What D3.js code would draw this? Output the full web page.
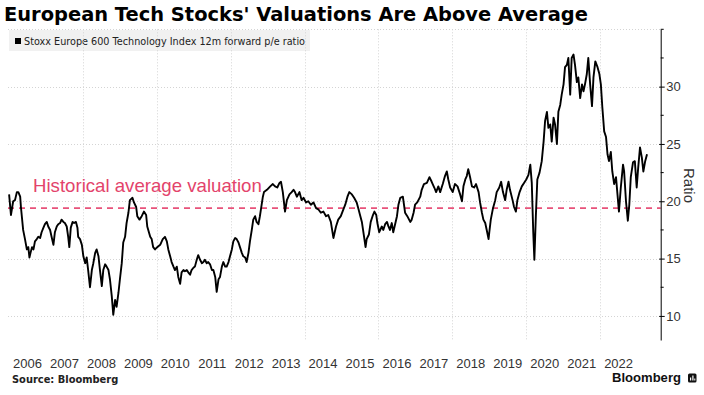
<!DOCTYPE html>
<html><head><meta charset="utf-8">
<script src="https://cdn.jsdelivr.net/npm/d3@7"></script>
<style>html,body{margin:0;padding:0;background:#fff;} svg{display:block;}</style>
</head><body>
<svg id="chart" width="704" height="395"></svg>
<script>
// ---------- data ----------
const titleText = "European Tech Stocks' Valuations Are Above Average";
const seriesName = "Stoxx Europe 600 Technology Index 12m forward p/e ratio";
const avgLabel = "Historical average valuation";
const sourceText = "Source: Bloomberg";
const brandText = "Bloomberg";
const axisTitle = "Ratio";
const historicalAverage = 19.4;
const yearLabels = [2006,2007,2008,2009,2010,2011,2012,2013,2014,2015,2016,2017,2018,2019,2020,2021,2022];
const gridYears = [2008,2010,2012,2014,2016,2018,2020,2022];
const yMajorTicks = [10,15,20,25,30];
const yMinorTicks = [12.5,17.5,22.5,27.5,32.5,35];
const yGridValues = [10,15,20,25,30,35];

// [decimal year, forward p/e]
const pe2006to2009 = [[2006.00,20.6],[2006.05,18.8],[2006.11,20.0],[2006.16,20.1],[2006.21,20.8],[2006.25,20.8],[2006.30,20.4],[2006.32,19.5],[2006.38,17.5],[2006.43,16.7],[2006.48,15.8],[2006.52,16.0],[2006.55,15.1],[2006.58,15.5],[2006.62,16.0],[2006.66,15.8],[2006.70,16.5],[2006.75,16.7],[2006.79,16.9],[2006.84,16.8],[2006.88,17.3],[2006.93,17.7],[2006.97,18.0],[2007.02,18.2],[2007.06,17.8],[2007.11,17.5],[2007.15,16.9],[2007.20,16.2],[2007.24,17.3],[2007.29,17.8],[2007.33,18.0],[2007.38,18.1],[2007.42,18.4],[2007.47,18.2],[2007.51,18.1],[2007.56,17.8],[2007.60,16.9],[2007.63,16.0],[2007.67,17.7],[2007.72,18.2],[2007.76,18.1],[2007.81,18.2],[2007.85,17.7],[2007.87,16.9],[2007.92,16.7],[2007.97,16.2],[2008.01,15.2],[2008.06,14.6],[2008.10,15.1],[2008.14,14.0],[2008.19,12.5],[2008.24,14.0],[2008.28,14.6],[2008.33,15.5],[2008.37,15.8],[2008.42,15.2],[2008.46,14.0],[2008.51,12.6],[2008.55,14.0],[2008.60,14.5],[2008.64,14.3],[2008.69,14.0],[2008.73,13.2],[2008.78,11.7],[2008.82,10.1],[2008.87,11.4],[2008.91,10.8],[2008.96,12.0],[2009.00,13.2],[2009.05,14.6],[2009.09,16.4],[2009.14,16.9],[2009.18,18.1],[2009.23,19.0],[2009.27,20.1]];
const pe2009to2012 = [[2009.34,20.3],[2009.38,19.9],[2009.44,19.5],[2009.47,18.7],[2009.53,18.4],[2009.59,18.7],[2009.65,19.1],[2009.71,18.8],[2009.74,17.8],[2009.82,16.9],[2009.86,16.7],[2009.90,16.0],[2009.95,15.8],[2010.01,16.0],[2010.09,16.2],[2010.16,16.7],[2010.22,16.9],[2010.27,16.5],[2010.31,15.8],[2010.36,15.2],[2010.40,14.7],[2010.45,14.3],[2010.49,14.0],[2010.54,14.3],[2010.58,13.4],[2010.63,12.8],[2010.67,13.8],[2010.72,14.0],[2010.76,13.9],[2010.81,14.0],[2010.85,13.8],[2010.90,13.6],[2010.94,14.0],[2010.99,14.2],[2011.03,14.3],[2011.08,14.9],[2011.12,15.3],[2011.17,14.9],[2011.22,14.6],[2011.26,14.7],[2011.30,14.9],[2011.35,14.6],[2011.39,14.7],[2011.44,14.5],[2011.49,14.0],[2011.53,14.0],[2011.58,13.4],[2011.62,12.1],[2011.67,13.2],[2011.71,13.4],[2011.76,14.3],[2011.80,14.7],[2011.85,14.3],[2011.89,14.3],[2011.94,14.7],[2011.98,15.2],[2012.03,15.8],[2012.07,16.5],[2012.12,16.8],[2012.16,16.7],[2012.21,16.4],[2012.25,16.0],[2012.30,15.5],[2012.34,15.2],[2012.39,15.1],[2012.43,14.7],[2012.48,15.5],[2012.52,16.5],[2012.57,17.5],[2012.61,18.4],[2012.66,18.7],[2012.70,18.2],[2012.75,18.0],[2012.79,18.7]];
const pe2012to2016 = [[2012.87,20.4],[2012.90,20.8],[2012.98,21.0],[2013.07,21.3],[2013.14,21.5],[2013.20,21.3],[2013.26,21.2],[2013.32,21.6],[2013.36,21.7],[2013.41,20.8],[2013.47,19.1],[2013.52,20.1],[2013.59,20.6],[2013.65,20.8],[2013.70,21.0],[2013.74,20.8],[2013.79,20.4],[2013.86,20.8],[2013.92,20.1],[2013.97,20.3],[2014.04,19.9],[2014.10,20.0],[2014.17,19.7],[2014.24,19.9],[2014.31,19.4],[2014.37,19.3],[2014.44,19.0],[2014.51,19.1],[2014.58,18.7],[2014.64,18.8],[2014.71,18.2],[2014.78,16.8],[2014.85,17.8],[2014.91,18.4],[2014.98,18.7],[2015.05,19.3],[2015.10,19.7],[2015.16,20.4],[2015.21,20.8],[2015.28,20.6],[2015.34,20.3],[2015.41,19.9],[2015.46,19.3],[2015.50,18.8],[2015.55,18.2],[2015.61,16.9],[2015.65,16.0],[2015.68,16.7],[2015.74,17.1],[2015.79,18.2],[2015.85,18.8],[2015.89,19.1],[2015.94,18.8],[2015.97,18.1],[2016.02,17.3],[2016.09,17.8],[2016.13,17.5],[2016.18,18.0],[2016.23,18.2],[2016.27,17.8],[2016.31,17.5],[2016.36,18.1],[2016.40,17.3],[2016.45,18.0],[2016.50,18.7],[2016.54,19.7],[2016.59,20.3],[2016.66,20.4]];
const pe2016to2020 = [[2016.72,19.0],[2016.78,18.7],[2016.86,18.2],[2016.90,18.4],[2016.95,19.0],[2016.99,19.7],[2017.05,19.9],[2017.13,20.4],[2017.17,21.0],[2017.23,21.5],[2017.31,21.6],[2017.38,22.1],[2017.44,21.7],[2017.51,21.2],[2017.56,20.8],[2017.62,21.3],[2017.67,20.8],[2017.74,21.5],[2017.80,22.2],[2017.85,22.6],[2017.89,21.9],[2017.94,21.2],[2018.01,20.8],[2018.07,21.5],[2018.14,21.3],[2018.21,20.6],[2018.26,20.0],[2018.30,21.3],[2018.35,21.9],[2018.39,22.2],[2018.43,22.8],[2018.48,22.1],[2018.53,21.3],[2018.59,21.2],[2018.64,21.5],[2018.71,20.8],[2018.75,19.9],[2018.80,19.0],[2018.84,18.4],[2018.89,18.1],[2018.93,17.5],[2018.98,16.7],[2019.00,17.3],[2019.04,18.4],[2019.10,19.4],[2019.16,20.1],[2019.20,20.8],[2019.27,21.2],[2019.32,21.7],[2019.37,20.8],[2019.43,20.1],[2019.47,21.0],[2019.52,21.7],[2019.56,21.0],[2019.63,20.1],[2019.67,19.5],[2019.72,19.1],[2019.76,20.1],[2019.82,20.8],[2019.88,21.3],[2019.94,21.6],[2020.00,21.9],[2020.06,22.3],[2020.11,23.2],[2020.15,21.6],[2020.19,17.3],[2020.22,14.9],[2020.26,18.7],[2020.30,21.9],[2020.36,22.5]];
const pe2020to2023 = [[2020.42,23.5],[2020.47,25.2],[2020.51,27.0],[2020.56,27.8],[2020.60,26.4],[2020.65,26.7],[2020.69,25.2],[2020.74,27.3],[2020.78,26.7],[2020.83,25.0],[2020.87,27.8],[2020.92,28.4],[2020.96,29.3],[2021.01,30.2],[2021.05,31.7],[2021.10,31.9],[2021.14,32.5],[2021.19,29.3],[2021.23,32.5],[2021.28,32.8],[2021.32,31.9],[2021.37,30.4],[2021.41,30.8],[2021.46,29.0],[2021.51,30.2],[2021.55,29.6],[2021.59,30.2],[2021.64,31.1],[2021.68,32.5],[2021.73,30.2],[2021.78,28.3],[2021.82,30.8],[2021.87,32.2],[2021.93,31.7],[2021.98,31.1],[2022.02,30.2],[2022.06,28.2],[2022.11,26.1],[2022.16,25.6],[2022.20,24.1],[2022.24,23.5],[2022.29,24.3],[2022.33,22.6],[2022.38,21.5],[2022.43,22.1],[2022.47,20.6],[2022.51,19.1],[2022.56,21.2],[2022.62,23.2],[2022.65,22.6],[2022.70,20.0],[2022.75,18.3],[2022.79,19.7],[2022.83,22.1],[2022.89,23.4],[2022.94,23.5],[2022.99,21.2],[2023.03,22.9],[2023.08,24.7],[2023.13,23.8],[2023.17,22.6],[2023.22,23.5],[2023.27,24.1]];

const series = [].concat(pe2006to2009, pe2009to2012, pe2012to2016, pe2016to2020, pe2020to2023);

// ---------- layout ----------
const svg = d3.select("#chart");
const plotLeft = 8, axisX = 660.7, plotTop = 29.3, plotBottom = 340;
const x = d3.scaleLinear().domain([2006, 2023.64]).range([9.1, axisX]);
const y = d3.scaleLinear().domain([7.9, 35]).range([plotBottom, plotTop]);

function fitText(sel, targetW, baseSize) {
  sel.style("font-size", baseSize + "px");
  const w = sel.node().getComputedTextLength();
  sel.style("font-size", (baseSize * targetW / w).toFixed(2) + "px");
}

// title
const t = svg.append("text").attr("x", 4).attr("y", 21)
  .style("font-family", "'DejaVu Sans', Verdana, sans-serif").style("font-weight", "bold")
  .attr("fill", "#000").text(titleText);
fitText(t, 584, 19);

// legend box
svg.append("rect").attr("x", 9).attr("y", 30).attr("width", 301).attr("height", 21).attr("fill", "#f1f1f1");
svg.append("rect").attr("x", 15).attr("y", 38).attr("width", 6).attr("height", 6).attr("fill", "#000");
svg.append("text").attr("x", 24).attr("y", 45.2)
  .style("font-family", "'DejaVu Sans', Verdana, sans-serif").style("font-size", "11px")
  .attr("textLength", 281).attr("lengthAdjust", "spacingAndGlyphs")
  .attr("fill", "#222").text(seriesName);

// gridlines
const grid = svg.append("g").attr("stroke", "#d4d4d4").attr("stroke-width", 1).attr("stroke-dasharray", "1,2");
grid.selectAll("line.h").data(yGridValues).join("line").attr("class", "h")
  .attr("x1", plotLeft).attr("x2", axisX).attr("y1", d => Math.round(y(d)) + 0.5).attr("y2", d => Math.round(y(d)) + 0.5);
grid.selectAll("line.v").data(gridYears).join("line").attr("class", "v")
  .attr("x1", d => Math.round(x(d)) + 0.5).attr("x2", d => Math.round(x(d)) + 0.5)
  .attr("y1", plotTop).attr("y2", plotBottom);

// historical average line
svg.append("line").attr("x1", plotLeft).attr("x2", axisX)
  .attr("y1", y(historicalAverage)).attr("y2", y(historicalAverage))
  .attr("stroke", "#e8527a").attr("stroke-width", 1.6).attr("stroke-dasharray", "6,5");

// series line
const line = d3.line().x(d => x(d[0])).y(d => y(d[1]));
svg.append("path").datum(series).attr("d", line).attr("fill", "none")
  .attr("stroke", "#000").attr("stroke-width", 1.9).attr("stroke-linejoin", "round");

// average label
const al = svg.append("text").attr("x", 33).attr("y", 191.5)
  .style("font-family", "'Liberation Sans', Arial, sans-serif").attr("fill", "#e3436b").text(avgLabel);
fitText(al, 229, 18.5);

// right axis
const yAxis = d3.axisRight(y).tickValues(yMajorTicks).tickSize(4).tickSizeOuter(0).tickPadding(1.5).tickFormat(d3.format("d"));
const ga = svg.append("g").attr("transform", `translate(${axisX},0)`).call(yAxis);
ga.select(".domain").attr("stroke", "#000");
ga.selectAll(".tick line").attr("stroke", "#000").attr("x1", -1.5);
ga.selectAll(".tick text").style("font-family", "'Liberation Sans', Arial, sans-serif").style("font-size", "13px").attr("fill", "#333");
svg.append("g").selectAll("line").data(yMinorTicks).join("line")
  .attr("x1", axisX).attr("x2", axisX + 3).attr("y1", d => y(d)).attr("y2", d => y(d)).attr("stroke", "#000");

// axis title
svg.append("text").attr("transform", "translate(684,185.5) rotate(90)").attr("text-anchor", "middle")
  .style("font-family", "'Liberation Sans', Arial, sans-serif").style("font-size", "15px").attr("fill", "#333").text(axisTitle);

// x labels
svg.append("g").selectAll("text").data(yearLabels).join("text")
  .attr("x", d => x(d + 0.5)).attr("y", 368.3).attr("text-anchor", "middle")
  .style("font-family", "'Liberation Sans', Arial, sans-serif").style("font-size", "13px").attr("fill", "#333")
  .text(d => d);

// footer
svg.append("text").attr("x", 12).attr("y", 382.5)
  .style("font-family", "'DejaVu Sans', Verdana, sans-serif").style("font-weight", "bold").style("font-size", "9.9px")
  .attr("fill", "#222").text(sourceText);
const bb = svg.append("text").attr("x", 612).attr("y", 382)
  .style("font-family", "'Liberation Sans', Arial, sans-serif").style("font-weight", "bold").attr("fill", "#111").text(brandText);
fitText(bb, 69, 13);
const icon = svg.append("g");
icon.append("rect").attr("x", 688).attr("y", 373.5).attr("width", 8.5).attr("height", 9).attr("rx", 1.5).attr("fill", "#111");
icon.append("rect").attr("x", 690).attr("y", 377.5).attr("width", 1.2).attr("height", 3).attr("fill", "#fff");
icon.append("rect").attr("x", 692.3).attr("y", 375.5).attr("width", 1.2).attr("height", 5).attr("fill", "#fff");
icon.append("rect").attr("x", 694.3).attr("y", 378.5).attr("width", 1).attr("height", 2).attr("fill", "#fff");
</script>
</body></html>
